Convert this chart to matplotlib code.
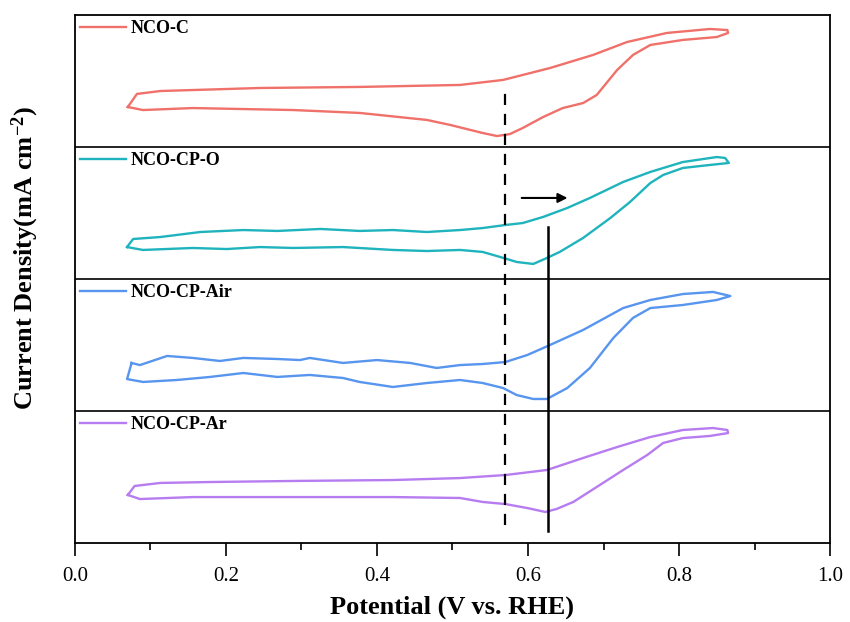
import matplotlib
matplotlib.use("Agg")
import matplotlib.pyplot as plt
from matplotlib.legend import Legend

plt.rcParams["font.family"] = ["Liberation Serif", "DejaVu Serif"]
plt.rcParams["mathtext.fontset"] = "custom"
plt.rcParams["mathtext.rm"] = "Liberation Serif:bold"
plt.rcParams["mathtext.bf"] = "Liberation Serif:bold"
plt.rcParams["mathtext.default"] = "bf"

# CV loops, current normalised to each panel height (arb. units)
nco_c_v = [0.070, 0.082, 0.113, 0.245, 0.377, 0.510, 0.567, 0.629, 0.686, 0.731, 0.784, 0.841, 0.864, 0.865,
           0.850, 0.805, 0.762, 0.739, 0.718, 0.691, 0.673, 0.646, 0.620, 0.593, 0.576, 0.559, 0.540, 0.497,
           0.466, 0.377, 0.289, 0.156, 0.090, 0.070]
nco_c_j = [0.303, 0.402, 0.424, 0.447, 0.455, 0.470, 0.508, 0.598, 0.697, 0.795, 0.864, 0.894, 0.886, 0.864,
           0.833, 0.811, 0.773, 0.697, 0.583, 0.394, 0.333, 0.295, 0.227, 0.144, 0.098, 0.083, 0.106, 0.167,
           0.205, 0.258, 0.280, 0.295, 0.280, 0.303]

nco_o_v = [0.069, 0.077, 0.113, 0.166, 0.223, 0.268, 0.325, 0.377, 0.421, 0.466, 0.510, 0.540, 0.570, 0.593,
           0.620, 0.652, 0.682, 0.726, 0.762, 0.805, 0.850, 0.861, 0.866,
           0.841, 0.805, 0.779, 0.762, 0.735, 0.709, 0.673, 0.642, 0.625, 0.607, 0.585, 0.563, 0.540, 0.510,
           0.466, 0.421, 0.355, 0.289, 0.245, 0.201, 0.156, 0.090, 0.069]
nco_o_j = [0.242, 0.303, 0.318, 0.356, 0.371, 0.364, 0.379, 0.364, 0.371, 0.356, 0.371, 0.386, 0.409, 0.424,
           0.470, 0.538, 0.614, 0.735, 0.811, 0.886, 0.924, 0.917, 0.879,
           0.864, 0.841, 0.788, 0.727, 0.583, 0.462, 0.311, 0.205, 0.159, 0.114, 0.129, 0.167, 0.205, 0.220,
           0.212, 0.220, 0.242, 0.235, 0.242, 0.227, 0.235, 0.220, 0.242]

nco_air_v = [0.075, 0.086, 0.122, 0.156, 0.192, 0.223, 0.268, 0.298, 0.311, 0.355, 0.400, 0.444, 0.479, 0.510,
             0.540, 0.570, 0.599, 0.626, 0.673, 0.726, 0.762, 0.805, 0.845, 0.868,
             0.850, 0.805, 0.762, 0.739, 0.713, 0.682, 0.652, 0.625, 0.607, 0.585, 0.567, 0.540, 0.510, 0.466,
             0.421, 0.377, 0.355, 0.311, 0.268, 0.223, 0.179, 0.135, 0.090, 0.069, 0.075]
nco_air_j = [0.364, 0.348, 0.417, 0.402, 0.379, 0.402, 0.394, 0.386, 0.402, 0.364, 0.386, 0.364, 0.326, 0.348,
             0.356, 0.371, 0.424, 0.492, 0.614, 0.780, 0.841, 0.886, 0.902, 0.871,
             0.841, 0.803, 0.780, 0.705, 0.553, 0.326, 0.174, 0.091, 0.091, 0.121, 0.174, 0.212, 0.235, 0.212,
             0.182, 0.220, 0.250, 0.273, 0.258, 0.288, 0.258, 0.235, 0.220, 0.242, 0.364]

nco_ar_v = [0.070, 0.079, 0.113, 0.179, 0.289, 0.421, 0.510, 0.570, 0.625, 0.673, 0.718, 0.762, 0.805, 0.845,
            0.864, 0.865,
            0.841, 0.805, 0.779, 0.758, 0.726, 0.695, 0.660, 0.638, 0.623, 0.599, 0.570, 0.540, 0.510, 0.421,
            0.289, 0.156, 0.086, 0.070]
nco_ar_j = [0.364, 0.432, 0.455, 0.462, 0.470, 0.477, 0.492, 0.515, 0.553, 0.644, 0.727, 0.803, 0.856, 0.871,
            0.856, 0.833,
            0.811, 0.795, 0.758, 0.667, 0.553, 0.439, 0.311, 0.258, 0.235, 0.265, 0.295, 0.311, 0.341, 0.348,
            0.348, 0.348, 0.333, 0.364]

labels = ["NCO-C", "NCO-CP-O", "NCO-CP-Air", "NCO-CP-Ar"]
colors = ["#f0706a", "#1fb3bd", "#5795ee", "#b77cf0"]
series = [(nco_c_v, nco_c_j), (nco_o_v, nco_o_j), (nco_air_v, nco_air_j), (nco_ar_v, nco_ar_j)]

# reference potentials (V) and their vertical extent (panel units)
dash_v, dash_y = 0.570, (0.136, 3.447)
solid_v, solid_y = 0.626, (0.091, 2.394)
arrow_v, arrow_y = (0.588, 0.656), 2.614

fig = plt.figure(figsize=(8.5, 6.22), dpi=100)
ax = fig.add_axes([0.0882, 0.127, 0.8883, 0.8489])
ax.set_xlim(0, 1.0)
ax.set_ylim(0, 4)

bold = {"family": ["Liberation Serif"], "weight": "bold", "size": 13}
n = len(series)
for i, ((v, j), lab, c) in enumerate(zip(series, labels, colors)):
    off = n - 1 - i
    ln, = ax.plot(v, [y + off for y in j], color=c, lw=1.7, solid_joinstyle="round")
    leg = Legend(ax, [ln], [lab], loc="upper left", bbox_to_anchor=(0, (off + 1) / n),
                 bbox_transform=ax.transAxes, frameon=False, prop=bold,
                 handlelength=2.5, handletextpad=0.3, borderaxespad=0, borderpad=0.3)
    ax.add_artist(leg)
    if off > 0:
        ax.axhline(off, color="black", lw=1.2)

ax.plot([dash_v, dash_v], dash_y, color="black", lw=1.6, ls=(0, (5, 4)))
ax.plot([solid_v, solid_v], solid_y, color="black", lw=1.8)
ax.annotate("", xy=(arrow_v[1], arrow_y), xytext=(arrow_v[0], arrow_y),
            arrowprops=dict(arrowstyle="-|>", color="black", lw=1.5, mutation_scale=14))

ax.set_yticks([])
ax.set_xticks([0.0, 0.2, 0.4, 0.6, 0.8, 1.0])
ax.set_xticks([0.1, 0.3, 0.5, 0.7, 0.9], minor=True)
ax.set_xticklabels(["0.0", "0.2", "0.4", "0.6", "0.8", "1.0"])
ax.tick_params(axis="x", which="major", length=9, width=1.2, labelsize=15, pad=8)
ax.tick_params(axis="x", which="minor", length=5, width=1.2)
for s in ax.spines.values():
    s.set_linewidth(1.3)

ax.set_xlabel("Potential (V vs. RHE)", fontsize=19, fontweight="bold", labelpad=7)
ax.set_ylabel("Current Density(mA cm$^{-2}$)", fontsize=19, fontweight="bold")
ax.yaxis.set_label_coords(-0.045, 0.54)

fig.savefig("out.png", dpi=100)
